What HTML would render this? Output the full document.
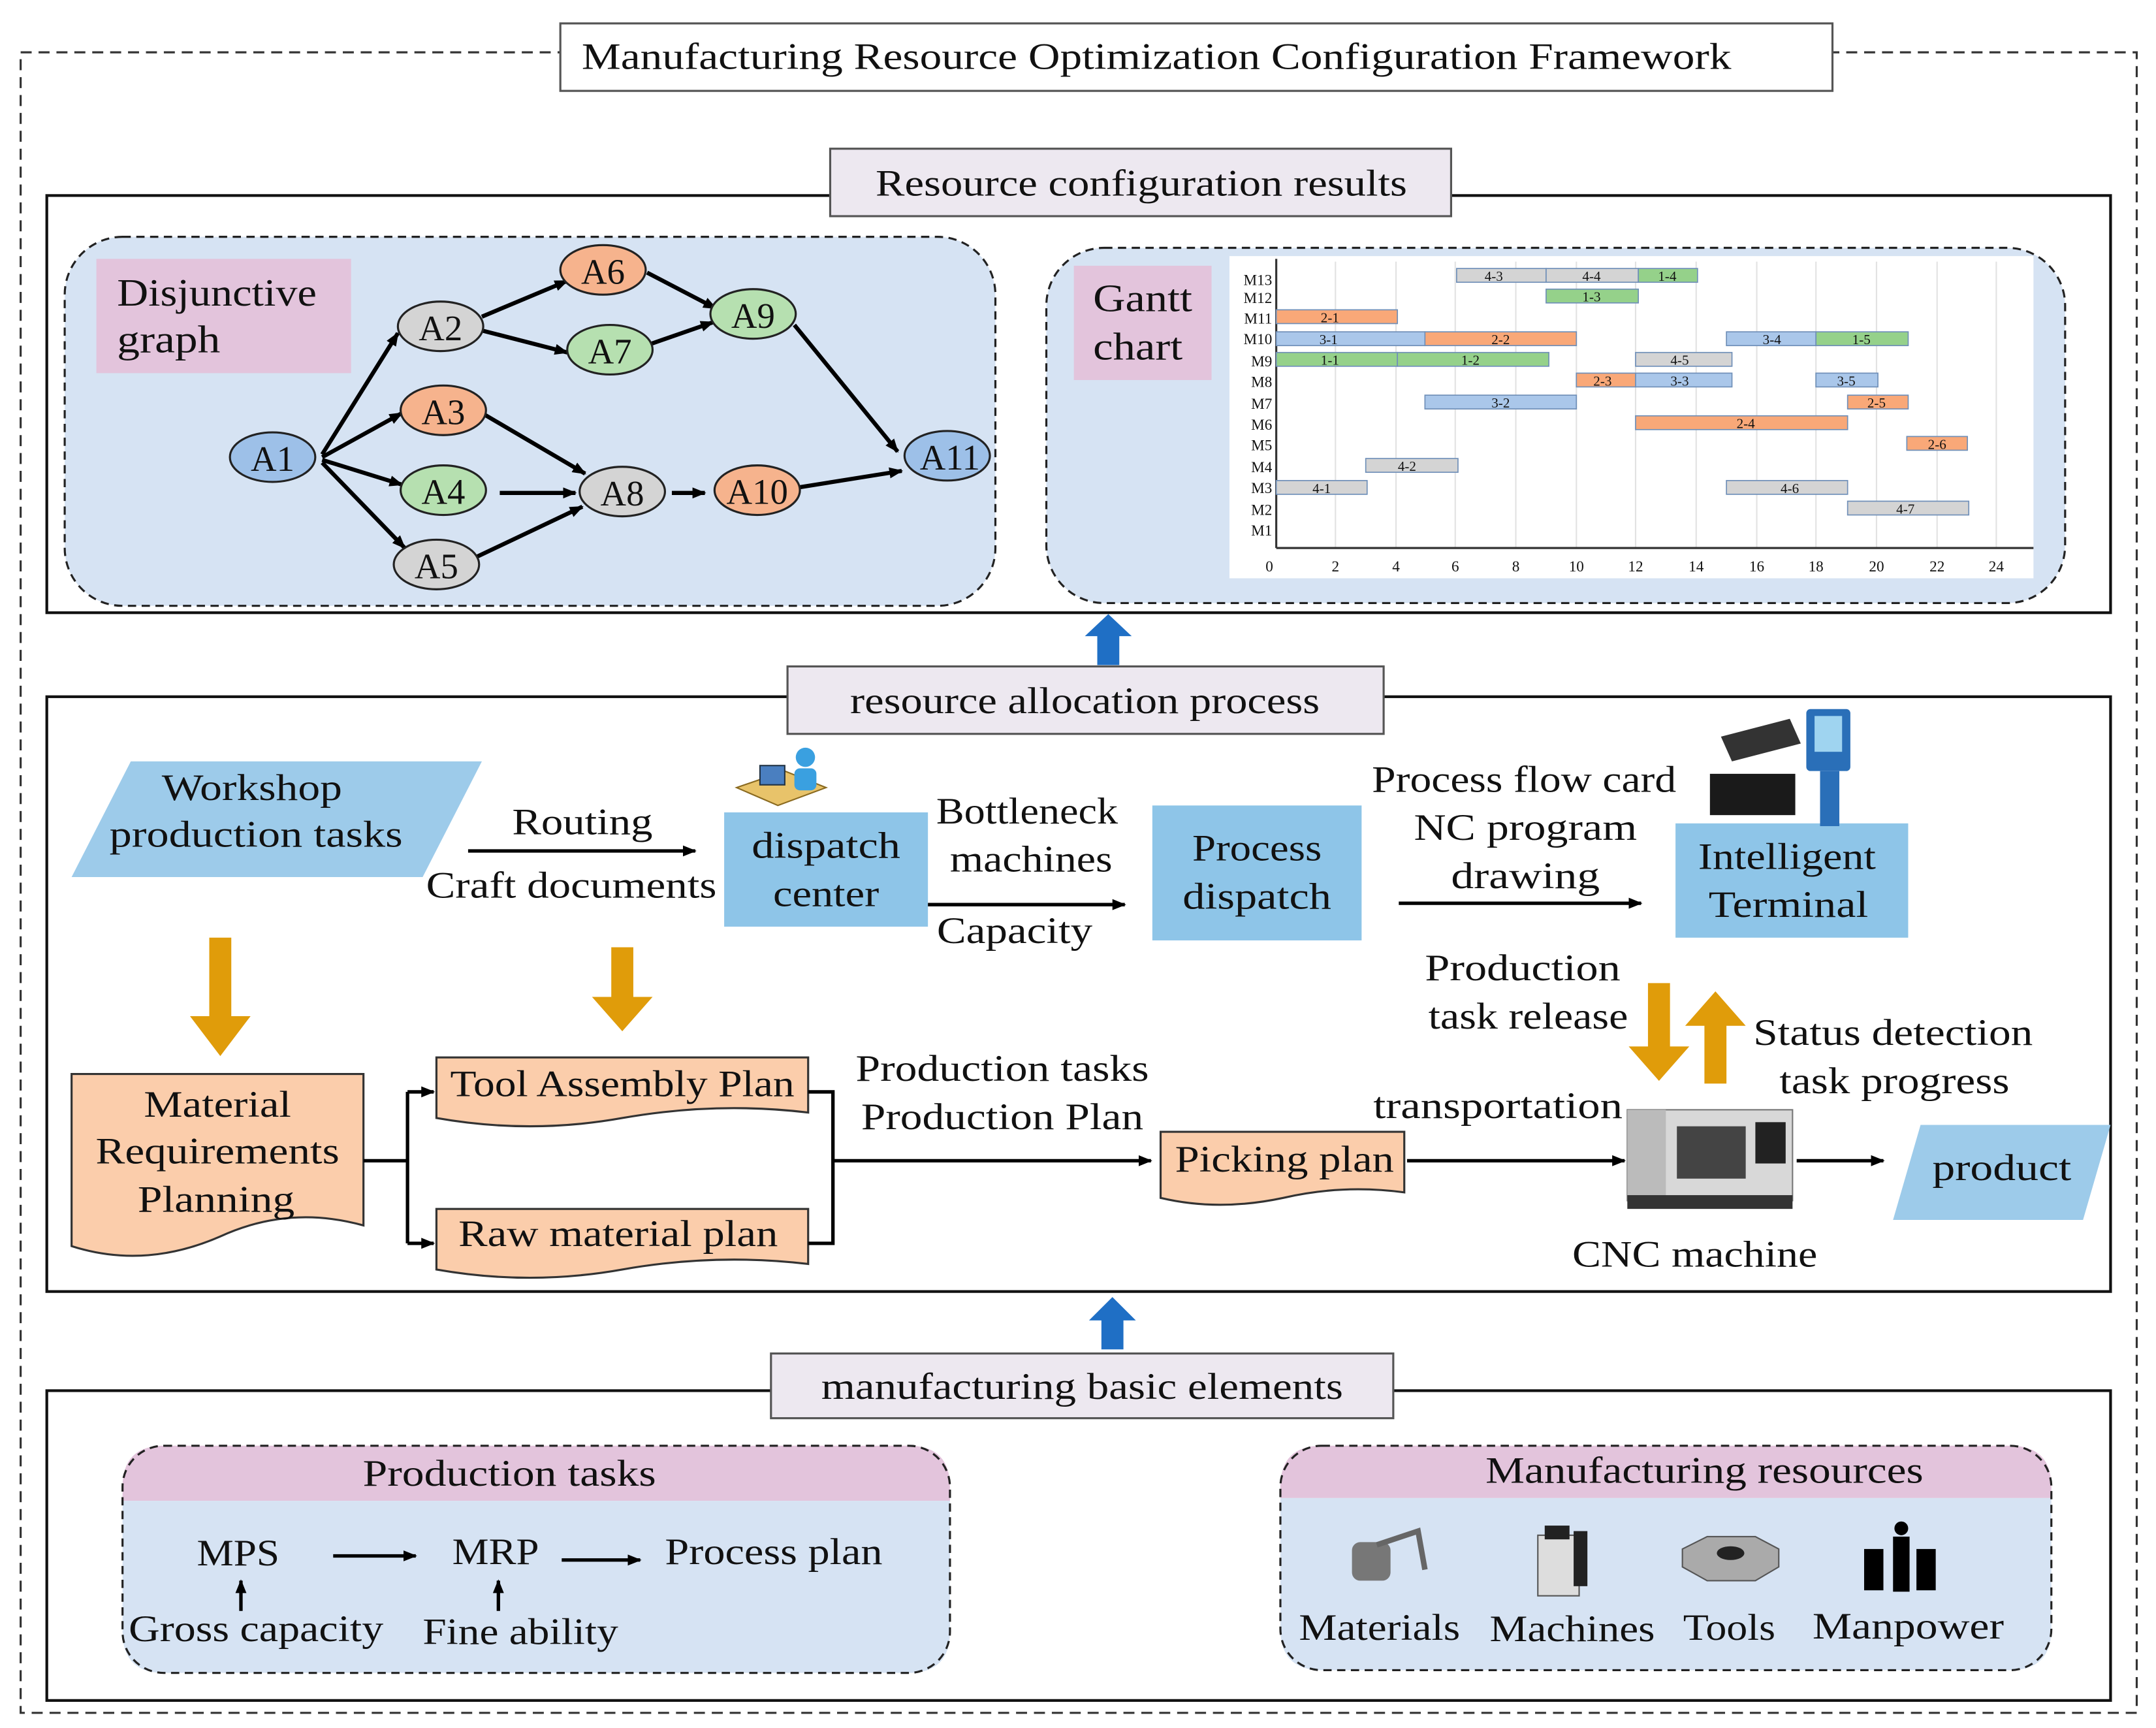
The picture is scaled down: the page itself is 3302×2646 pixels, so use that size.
<!DOCTYPE html>
<html><head><meta charset="utf-8"><style>
html,body{margin:0;padding:0;background:#fff;}
svg{display:block;}
text{font-family:"Liberation Serif",serif;fill:#111;}
</style></head><body>
<svg width="3302" height="2646" viewBox="0 0 1566 1255" preserveAspectRatio="none" xmlns="http://www.w3.org/2000/svg">
<defs>
<marker id="ah" markerWidth="10" markerHeight="10" refX="9" refY="5" orient="auto" markerUnits="userSpaceOnUse"><path d="M0,1 L10,5 L0,9 z" fill="#000"/></marker>
</defs>
<rect x="15" y="38" width="1537" height="1206" fill="none" stroke="#333" stroke-width="1.5" stroke-dasharray="8,5"/>
<rect x="407" y="17" width="924" height="49" fill="#fff" stroke="#555" stroke-width="1.5"/>
<text x="840" y="50" font-size="27" text-anchor="middle" textLength="835" lengthAdjust="spacingAndGlyphs">Manufacturing Resource Optimization Configuration Framework</text>

<rect x="34" y="142" width="1499" height="303" fill="#fff" stroke="#111" stroke-width="2"/>
<rect x="603" y="108" width="451" height="49" fill="#ede8f0" stroke="#555" stroke-width="1.5"/>
<text x="829" y="142" font-size="27" text-anchor="middle" textLength="386" lengthAdjust="spacingAndGlyphs">Resource configuration results</text>

<rect x="47" y="172" width="676" height="268" rx="42" fill="#d6e3f3" stroke="#222" stroke-width="1.5" stroke-dasharray="6,4"/>
<rect x="70" y="188" width="185" height="83" fill="#e3c4dc"/>
<text x="85" y="222" font-size="28" textLength="145" lengthAdjust="spacingAndGlyphs">Disjunctive</text>
<text x="85" y="256" font-size="28" textLength="75" lengthAdjust="spacingAndGlyphs">graph</text>
<g stroke="#000" stroke-width="3" fill="none" marker-end="url(#ah)">
<line x1="234" y1="330" x2="289" y2="242"/>
<line x1="234" y1="332" x2="292" y2="300"/>
<line x1="234" y1="334" x2="292" y2="352"/>
<line x1="234" y1="336" x2="294" y2="398"/>
<line x1="350" y1="230" x2="412" y2="204"/>
<line x1="350" y1="240" x2="412" y2="256"/>
<line x1="470" y1="198" x2="520" y2="224"/>
<line x1="472" y1="250" x2="518" y2="234"/>
<line x1="577" y1="236" x2="652" y2="328"/>
<line x1="350" y1="300" x2="425" y2="344"/>
<line x1="363" y1="358" x2="418" y2="358"/>
<line x1="345" y1="405" x2="423" y2="368"/>
<line x1="488" y1="358" x2="512" y2="358"/>
<line x1="580" y1="354" x2="655" y2="342"/>
</g>
<g stroke="#222" stroke-width="1.5">
<ellipse cx="198" cy="332" rx="31" ry="18" fill="#9dc0e8"/>
<ellipse cx="320" cy="237" rx="31" ry="18" fill="#d4d4d4"/>
<ellipse cx="438" cy="196" rx="31" ry="18" fill="#f6b38d"/>
<ellipse cx="443" cy="254" rx="31" ry="18" fill="#b6e0b0"/>
<ellipse cx="547" cy="228" rx="31" ry="18" fill="#b6e0b0"/>
<ellipse cx="322" cy="298" rx="31" ry="18" fill="#f6b38d"/>
<ellipse cx="322" cy="356" rx="31" ry="18" fill="#b6e0b0"/>
<ellipse cx="317" cy="410" rx="31" ry="18" fill="#d4d4d4"/>
<ellipse cx="452" cy="357" rx="31" ry="18" fill="#d4d4d4"/>
<ellipse cx="550" cy="356" rx="31" ry="18" fill="#f6b38d"/>
<ellipse cx="688" cy="331" rx="31" ry="18" fill="#9dc0e8"/>
</g>
<g font-size="26" text-anchor="middle">
<text x="198" y="342">A1</text><text x="320" y="247">A2</text><text x="438" y="206">A6</text>
<text x="443" y="264">A7</text><text x="547" y="238">A9</text><text x="322" y="308">A3</text>
<text x="322" y="366">A4</text><text x="317" y="420">A5</text><text x="452" y="367">A8</text>
<text x="550" y="366">A10</text><text x="690" y="341">A11</text>
</g>

<rect x="760" y="180" width="740" height="258" rx="42" fill="#d6e3f3" stroke="#222" stroke-width="1.5" stroke-dasharray="6,4"/>
<rect x="780" y="193" width="100" height="83" fill="#e3c4dc"/>
<text x="794" y="226" font-size="28" textLength="72" lengthAdjust="spacingAndGlyphs">Gantt</text>
<text x="794" y="261" font-size="28" textLength="65" lengthAdjust="spacingAndGlyphs">chart</text>
<rect x="893" y="186" width="584" height="234" fill="#fff"/>
<g stroke="#e2e2e2" stroke-width="1">
<line x1="970" y1="190" x2="970" y2="398"/><line x1="1014" y1="190" x2="1014" y2="398"/><line x1="1057" y1="190" x2="1057" y2="398"/><line x1="1101" y1="190" x2="1101" y2="398"/><line x1="1145" y1="190" x2="1145" y2="398"/><line x1="1188" y1="190" x2="1188" y2="398"/><line x1="1232" y1="190" x2="1232" y2="398"/><line x1="1276" y1="190" x2="1276" y2="398"/><line x1="1319" y1="190" x2="1319" y2="398"/><line x1="1363" y1="190" x2="1363" y2="398"/><line x1="1407" y1="190" x2="1407" y2="398"/><line x1="1450" y1="190" x2="1450" y2="398"/>
</g>
<line x1="927" y1="188" x2="927" y2="398" stroke="#333" stroke-width="1.5"/>
<line x1="927" y1="398" x2="1477" y2="398" stroke="#333" stroke-width="1.5"/>
<g font-size="11" text-anchor="end">
<text x="924" y="207">M13</text><text x="924" y="220">M12</text><text x="924" y="235">M11</text><text x="924" y="250">M10</text><text x="924" y="266">M9</text><text x="924" y="281">M8</text><text x="924" y="297">M7</text><text x="924" y="312">M6</text><text x="924" y="327">M5</text><text x="924" y="343">M4</text><text x="924" y="358">M3</text><text x="924" y="374">M2</text><text x="924" y="389">M1</text>
</g>
<g font-size="11" text-anchor="middle">
<text x="922" y="415">0</text><text x="970" y="415">2</text><text x="1014" y="415">4</text><text x="1057" y="415">6</text><text x="1101" y="415">8</text><text x="1145" y="415">10</text><text x="1188" y="415">12</text><text x="1232" y="415">14</text><text x="1276" y="415">16</text><text x="1319" y="415">18</text><text x="1363" y="415">20</text><text x="1407" y="415">22</text><text x="1450" y="415">24</text>
</g>
<g stroke="#6f8fb8" stroke-width="0.8">
<rect x="1058" y="195" width="65" height="10" fill="#d4d4d4"/>
<rect x="1123" y="195" width="67" height="10" fill="#d4d4d4"/>
<rect x="1190" y="195" width="43" height="10" fill="#95d18a"/>
<rect x="1123" y="210" width="67" height="10" fill="#95d18a"/>
<rect x="927" y="225" width="88" height="10" fill="#f9a878"/>
<rect x="927" y="241" width="108" height="10" fill="#aac7ea"/>
<rect x="1035" y="241" width="110" height="10" fill="#f9a878"/>
<rect x="1254" y="241" width="65" height="10" fill="#aac7ea"/>
<rect x="1319" y="241" width="67" height="10" fill="#95d18a"/>
<rect x="927" y="256" width="88" height="10" fill="#95d18a"/>
<rect x="1015" y="256" width="110" height="10" fill="#95d18a"/>
<rect x="1188" y="256" width="70" height="10" fill="#d4d4d4"/>
<rect x="1145" y="271" width="43" height="10" fill="#f9a878"/>
<rect x="1188" y="271" width="70" height="10" fill="#aac7ea"/>
<rect x="1319" y="271" width="45" height="10" fill="#aac7ea"/>
<rect x="1035" y="287" width="110" height="10" fill="#aac7ea"/>
<rect x="1342" y="287" width="44" height="10" fill="#f9a878"/>
<rect x="1188" y="302" width="154" height="10" fill="#f9a878"/>
<rect x="1385" y="317" width="44" height="10" fill="#f9a878"/>
<rect x="992" y="333" width="67" height="10" fill="#d4d4d4"/>
<rect x="927" y="349" width="66" height="10" fill="#d4d4d4"/>
<rect x="1254" y="349" width="88" height="10" fill="#d4d4d4"/>
<rect x="1342" y="364" width="88" height="10" fill="#d4d4d4"/>
</g>
<g font-size="10" text-anchor="middle">
<text x="1085" y="204">4-3</text><text x="1156" y="204">4-4</text><text x="1211" y="204">1-4</text>
<text x="1156" y="219">1-3</text><text x="966" y="234">2-1</text>
<text x="965" y="250">3-1</text><text x="1090" y="250">2-2</text><text x="1287" y="250">3-4</text><text x="1352" y="250">1-5</text>
<text x="966" y="265">1-1</text><text x="1068" y="265">1-2</text><text x="1220" y="265">4-5</text>
<text x="1164" y="280">2-3</text><text x="1220" y="280">3-3</text><text x="1341" y="280">3-5</text>
<text x="1090" y="296">3-2</text><text x="1363" y="296">2-5</text>
<text x="1268" y="311">2-4</text><text x="1407" y="326">2-6</text>
<text x="1022" y="342">4-2</text><text x="960" y="358">4-1</text><text x="1300" y="358">4-6</text>
<text x="1384" y="373">4-7</text>
</g>

<path d="M797,483 L797,462 L788,462 L805,446 L822,462 L813,462 L813,483 z" fill="#1f6fc5"/>
<path d="M800,980 L800,959 L791,959 L808,942 L825,959 L816,959 L816,980 z" fill="#1f6fc5"/>

<rect x="34" y="506" width="1499" height="432" fill="#fff" stroke="#111" stroke-width="2"/>
<rect x="572" y="484" width="433" height="49" fill="#ede8f0" stroke="#555" stroke-width="1.5"/>
<text x="788" y="518" font-size="27" text-anchor="middle" textLength="341" lengthAdjust="spacingAndGlyphs">resource allocation process</text>

<polygon points="95,553 350,553 307,637 52,637" fill="#9dcbea"/>
<text x="183" y="581" font-size="27" text-anchor="middle" textLength="131" lengthAdjust="spacingAndGlyphs">Workshop</text>
<text x="186" y="615" font-size="27" text-anchor="middle" textLength="213" lengthAdjust="spacingAndGlyphs">production tasks</text>
<line x1="340" y1="618" x2="505" y2="618" stroke="#000" stroke-width="2.5" marker-end="url(#ah)"/>
<text x="423" y="606" font-size="27" text-anchor="middle" textLength="102" lengthAdjust="spacingAndGlyphs">Routing</text>
<text x="415" y="652" font-size="27" text-anchor="middle" textLength="211" lengthAdjust="spacingAndGlyphs">Craft documents</text>

<rect x="526" y="590" width="148" height="83" fill="#8ec5e8"/>
<text x="600" y="623" font-size="27" text-anchor="middle" textLength="108" lengthAdjust="spacingAndGlyphs">dispatch</text>
<text x="600" y="658" font-size="27" text-anchor="middle" textLength="77" lengthAdjust="spacingAndGlyphs">center</text>
<polygon points="535,572 570,560 600,572 565,585" fill="#e8c36a" stroke="#8a6a20"/>
<rect x="552" y="556" width="18" height="14" fill="#4a7fc0" stroke="#234"/>
<circle cx="585" cy="550" r="7" fill="#3aa0e0"/>
<rect x="577" y="558" width="16" height="16" rx="4" fill="#3aa0e0"/>

<text x="746" y="598" font-size="27" text-anchor="middle" textLength="132" lengthAdjust="spacingAndGlyphs">Bottleneck</text>
<text x="749" y="633" font-size="27" text-anchor="middle" textLength="118" lengthAdjust="spacingAndGlyphs">machines</text>
<line x1="674" y1="657" x2="817" y2="657" stroke="#000" stroke-width="2.5" marker-end="url(#ah)"/>
<text x="737" y="685" font-size="27" text-anchor="middle" textLength="113" lengthAdjust="spacingAndGlyphs">Capacity</text>

<rect x="837" y="585" width="152" height="98" fill="#8ec5e8"/>
<text x="913" y="625" font-size="27" text-anchor="middle" textLength="94" lengthAdjust="spacingAndGlyphs">Process</text>
<text x="913" y="660" font-size="27" text-anchor="middle" textLength="108" lengthAdjust="spacingAndGlyphs">dispatch</text>

<text x="1107" y="575" font-size="27" text-anchor="middle" textLength="221" lengthAdjust="spacingAndGlyphs">Process flow card</text>
<text x="1108" y="610" font-size="27" text-anchor="middle" textLength="162" lengthAdjust="spacingAndGlyphs">NC program</text>
<text x="1108" y="645" font-size="27" text-anchor="middle" textLength="108" lengthAdjust="spacingAndGlyphs">drawing</text>
<line x1="1016" y1="656" x2="1192" y2="656" stroke="#000" stroke-width="2.5" marker-end="url(#ah)"/>

<rect x="1217" y="598" width="169" height="83" fill="#8ec5e8"/>
<text x="1298" y="631" font-size="27" text-anchor="middle" textLength="129" lengthAdjust="spacingAndGlyphs">Intelligent</text>
<text x="1299" y="666" font-size="27" text-anchor="middle" textLength="116" lengthAdjust="spacingAndGlyphs">Terminal</text>
<polygon points="1250,535 1300,522 1308,540 1258,553" fill="#333"/>
<rect x="1242" y="562" width="62" height="30" fill="#1a1a1a"/>
<rect x="1312" y="515" width="32" height="45" rx="3" fill="#2a6fb8"/>
<rect x="1318" y="520" width="20" height="26" fill="#9fd4f0"/>
<rect x="1322" y="560" width="14" height="40" fill="#2a6fb8"/>

<path d="M152,681 L168,681 L168,738 L182,738 L160,767 L138,738 L152,738 z" fill="#e09c0a"/>
<path d="M444,688 L460,688 L460,724 L474,724 L452,749 L430,724 L444,724 z" fill="#e09c0a"/>
<path d="M1197,714 L1213,714 L1213,760 L1227,760 L1205,785 L1183,760 L1197,760 z" fill="#e09c0a"/>
<path d="M1238,787 L1254,787 L1254,745 L1268,745 L1246,720 L1224,745 L1238,745 z" fill="#e09c0a"/>
<text x="1106" y="712" font-size="27" text-anchor="middle" textLength="142" lengthAdjust="spacingAndGlyphs">Production</text>
<text x="1110" y="747" font-size="27" text-anchor="middle" textLength="145" lengthAdjust="spacingAndGlyphs">task release</text>
<text x="1375" y="759" font-size="27" text-anchor="middle" textLength="203" lengthAdjust="spacingAndGlyphs">Status detection</text>
<text x="1376" y="794" font-size="27" text-anchor="middle" textLength="167" lengthAdjust="spacingAndGlyphs">task progress</text>

<path d="M52,780 L264,780 L264,890 Q210,875 160,898 Q105,922 52,905 z" fill="#fbcdab" stroke="#333" stroke-width="1.5"/>
<text x="158" y="811" font-size="27" text-anchor="middle" textLength="107" lengthAdjust="spacingAndGlyphs">Material</text>
<text x="158" y="845" font-size="27" text-anchor="middle" textLength="177" lengthAdjust="spacingAndGlyphs">Requirements</text>
<text x="157" y="880" font-size="27" text-anchor="middle" textLength="114" lengthAdjust="spacingAndGlyphs">Planning</text>
<path d="M317,768 L587,768 L587,808 Q520,800 452,812 Q385,824 317,812 z" fill="#fbcdab" stroke="#333" stroke-width="1.5"/>
<text x="452" y="796" font-size="27" text-anchor="middle" textLength="250" lengthAdjust="spacingAndGlyphs">Tool Assembly Plan</text>
<path d="M317,878 L587,878 L587,918 Q520,910 452,922 Q385,934 317,922 z" fill="#fbcdab" stroke="#333" stroke-width="1.5"/>
<text x="449" y="905" font-size="27" text-anchor="middle" textLength="232" lengthAdjust="spacingAndGlyphs">Raw material plan</text>
<g stroke="#000" stroke-width="2.5" fill="none">
<line x1="264" y1="843" x2="296" y2="843"/>
<line x1="296" y1="793" x2="296" y2="903"/>
<line x1="296" y1="793" x2="315" y2="793" marker-end="url(#ah)"/>
<line x1="296" y1="903" x2="315" y2="903" marker-end="url(#ah)"/>
<polyline points="587,793 605,793 605,903 587,903"/>
<line x1="605" y1="843" x2="836" y2="843" marker-end="url(#ah)"/>
<line x1="1022" y1="843" x2="1180" y2="843" marker-end="url(#ah)"/>
<line x1="1305" y1="843" x2="1368" y2="843" marker-end="url(#ah)"/>
</g>
<text x="728" y="785" font-size="27" text-anchor="middle" textLength="213" lengthAdjust="spacingAndGlyphs">Production tasks</text>
<text x="728" y="820" font-size="27" text-anchor="middle" textLength="205" lengthAdjust="spacingAndGlyphs">Production Plan</text>
<path d="M843,822 L1020,822 L1020,866 Q975,860 932,870 Q885,880 843,870 z" fill="#fbcdab" stroke="#333" stroke-width="1.5"/>
<text x="933" y="851" font-size="27" text-anchor="middle" textLength="159" lengthAdjust="spacingAndGlyphs">Picking plan</text>
<text x="1088" y="812" font-size="27" text-anchor="middle" textLength="181" lengthAdjust="spacingAndGlyphs">transportation</text>
<rect x="1182" y="806" width="120" height="66" fill="#d8d8d8" stroke="#777"/>
<rect x="1182" y="806" width="28" height="66" fill="#bbb"/>
<rect x="1218" y="818" width="50" height="38" fill="#444"/>
<rect x="1275" y="815" width="22" height="30" fill="#222"/>
<rect x="1182" y="868" width="120" height="10" fill="#333"/>
<text x="1231" y="920" font-size="27" text-anchor="middle" textLength="178" lengthAdjust="spacingAndGlyphs">CNC machine</text>
<polygon points="1395,817 1533,817 1513,886 1375,886" fill="#9dcbea"/>
<text x="1454" y="857" font-size="27" text-anchor="middle" textLength="101" lengthAdjust="spacingAndGlyphs">product</text>

<rect x="34" y="1010" width="1499" height="225" fill="#fff" stroke="#111" stroke-width="2"/>
<rect x="560" y="983" width="452" height="47" fill="#ede8f0" stroke="#555" stroke-width="1.5"/>
<text x="786" y="1016" font-size="27" text-anchor="middle" textLength="379" lengthAdjust="spacingAndGlyphs">manufacturing basic elements</text>

<path d="M89,1090 L89,1080 Q89,1050 119,1050 L660,1050 Q690,1050 690,1080 L690,1090 z" fill="#e3c4dc"/>
<path d="M89,1090 L690,1090 L690,1185 Q690,1215 660,1215 L119,1215 Q89,1215 89,1185 z" fill="#d6e3f3"/>
<rect x="89" y="1050" width="601" height="165" rx="30" fill="none" stroke="#222" stroke-width="1.5" stroke-dasharray="6,4"/>
<text x="370" y="1079" font-size="27" text-anchor="middle" textLength="213" lengthAdjust="spacingAndGlyphs">Production tasks</text>
<text x="173" y="1137" font-size="27" text-anchor="middle" textLength="60" lengthAdjust="spacingAndGlyphs">MPS</text>
<text x="360" y="1136" font-size="27" text-anchor="middle" textLength="63" lengthAdjust="spacingAndGlyphs">MRP</text>
<text x="562" y="1136" font-size="27" text-anchor="middle" textLength="158" lengthAdjust="spacingAndGlyphs">Process plan</text>
<text x="186" y="1192" font-size="27" text-anchor="middle" textLength="185" lengthAdjust="spacingAndGlyphs">Gross capacity</text>
<text x="378" y="1194" font-size="27" text-anchor="middle" textLength="142" lengthAdjust="spacingAndGlyphs">Fine ability</text>
<g stroke="#000" stroke-width="2.5">
<line x1="242" y1="1130" x2="302" y2="1130" marker-end="url(#ah)"/>
<line x1="408" y1="1133" x2="465" y2="1133" marker-end="url(#ah)"/>
<line x1="175" y1="1170" x2="175" y2="1148" marker-end="url(#ah)"/>
<line x1="362" y1="1170" x2="362" y2="1148" marker-end="url(#ah)"/>
</g>

<path d="M930,1088 L930,1080 Q930,1050 960,1050 L1460,1050 Q1490,1050 1490,1080 L1490,1088 z" fill="#e3c4dc"/>
<path d="M930,1088 L1490,1088 L1490,1183 Q1490,1213 1460,1213 L960,1213 Q930,1213 930,1183 z" fill="#d6e3f3"/>
<rect x="930" y="1050" width="560" height="163" rx="30" fill="none" stroke="#222" stroke-width="1.5" stroke-dasharray="6,4"/>
<text x="1238" y="1077" font-size="27" text-anchor="middle" textLength="318" lengthAdjust="spacingAndGlyphs">Manufacturing resources</text>
<rect x="982" y="1120" width="28" height="28" rx="6" fill="#777"/>
<path d="M1000,1122 L1030,1112 L1035,1140" stroke="#666" stroke-width="4" fill="none"/>
<rect x="1117" y="1115" width="30" height="44" fill="#ddd" stroke="#555"/>
<rect x="1122" y="1108" width="18" height="10" fill="#222"/>
<rect x="1143" y="1112" width="10" height="40" fill="#222"/>
<polygon points="1222,1125 1240,1116 1275,1116 1292,1125 1292,1138 1275,1148 1240,1148 1222,1138" fill="#aaa" stroke="#555"/>
<ellipse cx="1257" cy="1128" rx="10" ry="5" fill="#222"/>
<circle cx="1381" cy="1110" r="5" fill="#000"/>
<rect x="1375" y="1116" width="12" height="40" fill="#000"/>
<rect x="1354" y="1125" width="14" height="30" fill="#000"/>
<rect x="1392" y="1125" width="14" height="30" fill="#000"/>
<text x="1002" y="1191" font-size="27" text-anchor="middle" textLength="117" lengthAdjust="spacingAndGlyphs">Materials</text>
<text x="1142" y="1192" font-size="27" text-anchor="middle" textLength="120" lengthAdjust="spacingAndGlyphs">Machines</text>
<text x="1256" y="1191" font-size="27" text-anchor="middle" textLength="67" lengthAdjust="spacingAndGlyphs">Tools</text>
<text x="1386" y="1190" font-size="27" text-anchor="middle" textLength="139" lengthAdjust="spacingAndGlyphs">Manpower</text>
</svg>
</body></html>
